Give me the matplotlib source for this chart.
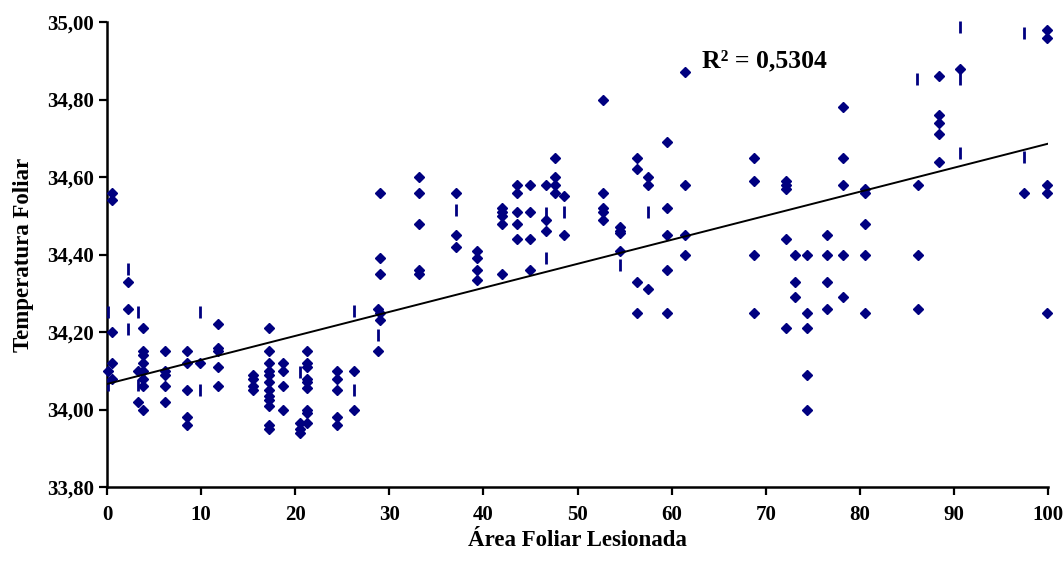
import matplotlib
matplotlib.use("Agg")
import matplotlib.pyplot as plt
import numpy as np

# leaf area lesioned (%) per column of points, and leaf temperature readings
col_x = [0.5, 0.15, 2.2, 3.3, 3.8, 6.2, 8.5, 9.9, 11.8, 15.5, 17.2, 18.7, 20.5, 21.3,
         24.4, 26.2, 28.8, 29.0, 33.2, 37.1, 39.3, 42.0, 43.6, 44.9, 46.6, 47.6,
         48.6, 52.7, 54.5, 56.3, 57.5, 59.5, 61.4, 68.8, 72.2, 73.1, 74.4, 76.5,
         78.2, 80.6, 86.2, 88.4, 90.6, 97.4, 99.9]
col_temp = [
    [34.56, 34.54, 34.20, 34.12, 34.08],
    [34.10],
    [34.33, 34.26],
    [34.10, 34.02],
    [34.21, 34.15, 34.14, 34.12, 34.10, 34.08, 34.06, 34.00],
    [34.15, 34.10, 34.09, 34.06, 34.02],
    [34.15, 34.12, 34.05, 33.98, 33.96],
    [34.12],
    [34.22, 34.16, 34.15, 34.11, 34.06],
    [34.09, 34.08, 34.06, 34.05],
    [34.21, 34.15, 34.12, 34.10, 34.09, 34.07, 34.05, 34.035, 34.025, 34.01, 33.96, 33.95],
    [34.12, 34.10, 34.06, 34.00],
    [33.965, 33.95, 33.94],
    [34.15, 34.12, 34.11, 34.08, 34.07, 34.055, 34.00, 33.99, 33.965],
    [34.10, 34.08, 34.05, 33.98, 33.96],
    [34.10, 34.00],
    [34.26, 34.15],
    [34.56, 34.39, 34.35, 34.25, 34.23],
    [34.60, 34.56, 34.48, 34.36, 34.35],
    [34.56, 34.45, 34.42],
    [34.41, 34.39, 34.36, 34.335],
    [34.52, 34.51, 34.50, 34.48, 34.35],
    [34.58, 34.56, 34.51, 34.48, 34.44],
    [34.58, 34.51, 34.44, 34.36],
    [34.58, 34.49, 34.46],
    [34.65, 34.60, 34.58, 34.56],
    [34.55, 34.45],
    [34.80, 34.56, 34.52, 34.51, 34.49],
    [34.47, 34.46, 34.455, 34.41],
    [34.65, 34.62, 34.33, 34.25],
    [34.60, 34.58, 34.31],
    [34.69, 34.52, 34.45, 34.36, 34.25],
    [34.87, 34.58, 34.45, 34.40],
    [34.65, 34.59, 34.40, 34.25],
    [34.59, 34.58, 34.57, 34.44, 34.21],
    [34.40, 34.33, 34.29],
    [34.40, 34.25, 34.21, 34.09, 34.00],
    [34.45, 34.40, 34.33, 34.26],
    [34.78, 34.65, 34.58, 34.40, 34.29],
    [34.57, 34.56, 34.48, 34.40, 34.25],
    [34.58, 34.40, 34.26],
    [34.86, 34.76, 34.74, 34.71, 34.64],
    [34.88],
    [34.56],
    [34.98, 34.96, 34.58, 34.56, 34.25],
]

# short vertical dash artefacts seen in the original plot
dash_x = [0.1, 0.1, 2.2, 2.2, 3.3, 3.3, 9.9, 9.9, 20.5, 26.2, 26.2, 28.8, 37.1,
          46.6, 46.6, 48.6, 54.5, 57.5, 86.1, 90.6, 90.6, 90.6, 97.4, 97.4]
dash_y = [34.252, 34.063, 34.363, 34.208, 34.252, 34.063, 34.252, 34.05, 34.098,
          34.254, 34.05, 34.192, 34.515, 34.507, 34.39, 34.51, 34.373, 34.51,
          34.853, 34.987, 34.853, 34.662, 34.972, 34.652]

# linear trend as printed in the original chart
trend_intercept = 34.066
trend_slope = 0.0062
r2_label = "R² = 0,5304"

x = np.concatenate([[cx] * len(ts) for cx, ts in zip(col_x, col_temp)])
y = np.concatenate(col_temp)

navy = "#000080"
plt.rcParams["font.family"] = ["Liberation Serif", "DejaVu Serif"]
plt.rcParams["font.weight"] = "bold"

fig = plt.figure(figsize=(10.63, 5.65), dpi=100)
ax = fig.add_axes([0.1007, 0.138, 0.8852, 0.823])

ax.plot(x, y, linestyle="none", marker="D", markersize=5.2, color=navy, clip_on=False, zorder=3)
ax.plot(dash_x, dash_y, linestyle="none", marker="|", markersize=8, markeredgewidth=2,
        color=navy, clip_on=False, zorder=3)

xl = np.array([0, 100])
ax.plot(xl, trend_intercept + trend_slope * xl, color="black", linewidth=1.4, zorder=4)

ax.text(0.632, 0.916, r2_label, transform=ax.transAxes,
        fontsize=18.5, fontweight="bold", ha="left", va="center")

ax.set_xlim(0, 100)
ax.set_ylim(33.8, 35.0)
ax.set_xticks(np.arange(0, 101, 10))
yt = np.arange(33.8, 35.01, 0.2)
ax.set_yticks(yt)
ax.set_yticklabels([f"{v:.2f}".replace(".", ",") for v in yt])
for s in ["top", "right"]:
    ax.spines[s].set_visible(False)
for s in ["left", "bottom"]:
    ax.spines[s].set_linewidth(1.8)
ax.tick_params(direction="out", length=5.8, width=1.6, labelsize=15)
ax.tick_params(axis="y", pad=3.6)
ax.tick_params(axis="x", pad=7)
for lab in ax.get_xticklabels() + ax.get_yticklabels():
    lab.set_fontweight("bold")

ax.set_xlabel("Área Foliar Lesionada", fontsize=16.5, fontweight="bold", labelpad=4)
ax.set_ylabel("Temperatura Foliar", fontsize=16.5, fontweight="bold", labelpad=9)

fig.savefig("out.png", dpi=100)
